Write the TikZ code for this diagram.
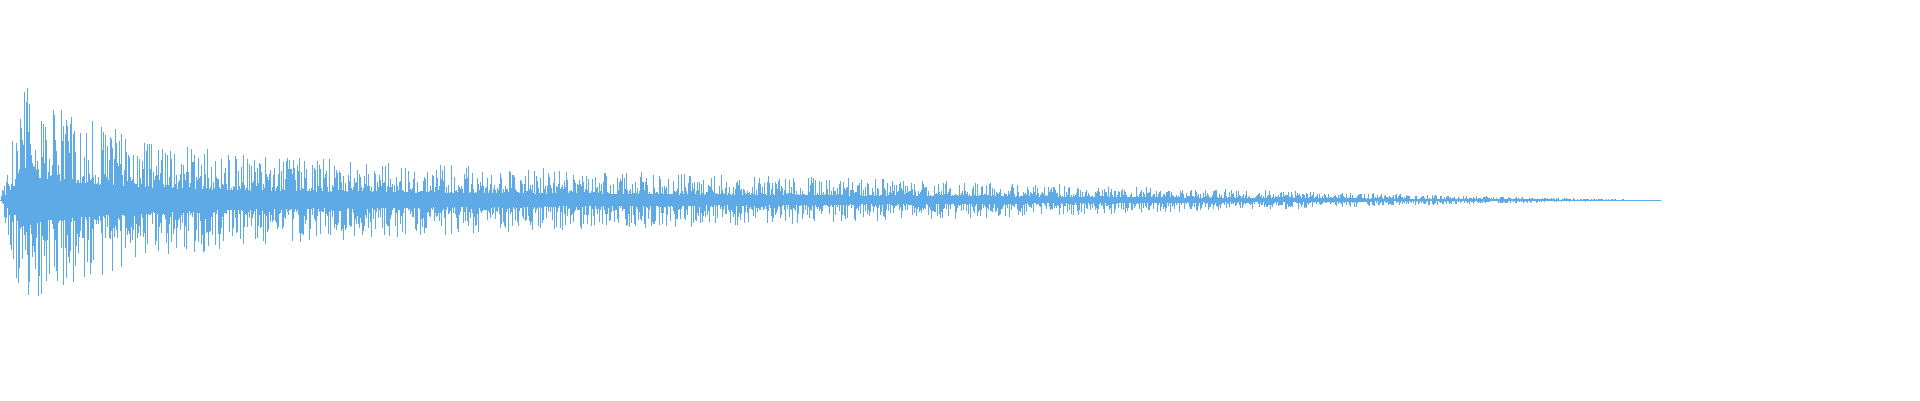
\documentclass[tikz,border=0pt]{standalone}
\usetikzlibrary{calc}
\definecolor{wavblue}{RGB}{93,170,230}
\tikzset{%
    wav/.style={line width = 0.25pt, color=wavblue},
}
\begin{document}
\begin{tikzpicture}
    \useasboundingbox (0,0) rectangle (19.2,4);
    \pgfmathsetseed{4711}
    \coordinate (axis) at (0,2);
    \foreach \i in {1,...,1660}{
        \pgfmathsetmacro{\x}{\i/100}
        \pgfmathsetmacro{\att}{min(1,\x/0.25)}
        \pgfmathsetmacro{\env}{\att*(0.9*exp(-\x/0.9)+0.5*(1-\x/16.7)^1.15)}
        \pgfmathsetmacro{\up}{\env*(0.2+0.8*rnd^2)}
        \pgfmathsetmacro{\dn}{\env*(0.2+0.8*rnd^2)}
        \draw [wav] ($(axis)+(\x,\up)$) -- ($(axis)+(\x,-\dn)$);
    }
    \draw [wav] (axis) -- ++(16.6,0);
\end{tikzpicture}
\end{document}
